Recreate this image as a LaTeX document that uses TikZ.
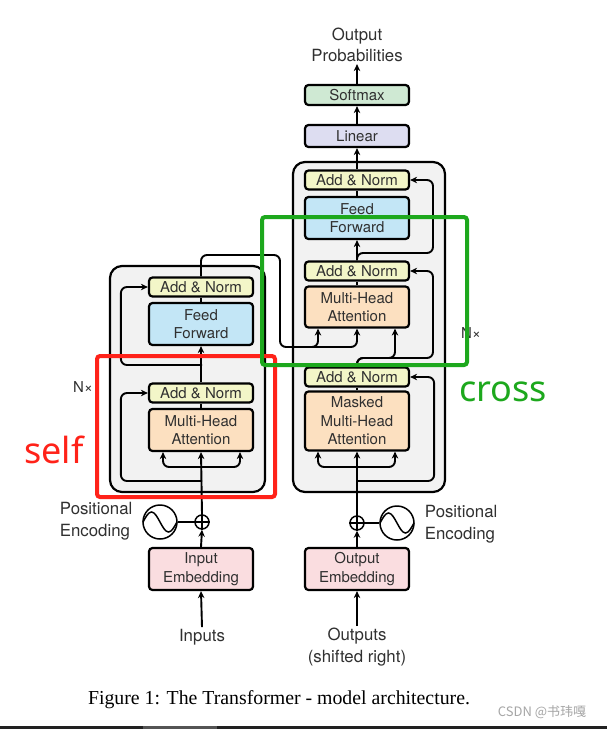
\documentclass[tikz,border=0pt]{standalone}
\usepackage{fontspec}
\setmainfont{Liberation Serif}
\setsansfont{TeX Gyre Heros}
\newfontfamily\notefont{Noto Sans}
\newfontfamily\cjkfont{Noto Sans CJK SC}
\usetikzlibrary{arrows.meta,calc}

\definecolor{ink}{HTML}{303030}
\definecolor{addcol}{HTML}{F3F6C8}
\definecolor{ffcol}{HTML}{C3E6F6}
\definecolor{attcol}{HTML}{FCE0C0}
\definecolor{embcol}{HTML}{FADDE0}
\definecolor{lincol}{HTML}{DDDDF1}
\definecolor{softcol}{HTML}{CFE9D3}
\definecolor{stackcol}{HTML}{F2F2F2}
\definecolor{selfred}{HTML}{FF2219}
\definecolor{crossgreen}{HTML}{1DA81D}

\begin{document}
\begin{tikzpicture}
[
    x=1pt, y=-1pt,
    >={Stealth[length=7pt,width=6.5pt]},
    line width=1.9pt,
    box/.style={draw, line width=2.2pt, rounded corners=3.5pt, inner sep=0pt, minimum width=104pt, align=center, text=ink, font=\sffamily\fontsize{15}{18.5}\selectfont},
    addnorm/.style={box, fill=addcol, minimum height=19pt},
    ffn/.style={box, fill=ffcol, minimum height=42pt},
    attn/.style={box, fill=attcol, minimum height=42pt},
    embed/.style={box, fill=embcol, minimum height=42pt},
    stack/.style={draw, line width=2.2pt, fill=stackcol, rounded corners=12pt},
    txt/.style={text=ink, align=center, inner sep=1pt, font=\sffamily\fontsize{16.8}{21.5}\selectfont},
    plus/.style={draw, circle, line width=1.5pt, minimum size=14pt, inner sep=0pt, fill=white},
    wave/.style={draw, circle, line width=1.5pt, minimum size=34pt, inner sep=0pt, fill=white},
    mark box/.style={line width=4pt, rounded corners=3pt},
]
\fill[white] (0,0) rectangle (607,729);

\draw[stack] (110,266) rectangle (265,492);
\draw[stack] (293,162) rectangle (445,492);

\node[addnorm] (encAN2) at (201,287) {Add \& Norm};
\node[ffn] (encFF) at (201,324) {Feed\\Forward};
\node[addnorm] (encAN1) at (201,393) {Add \& Norm};
\node[attn] (encMHA) at (201,430) {Multi-Head\\Attention};
\node[embed] (inEmb) at (201,569) {Input\\Embedding};
\node[plus] (encAdd) at (202,522) {};
\node[wave] (encPE) at (160,522) {};
\node[txt] (inputs) at (202,637) {Inputs};
\node[txt, align=left, anchor=west] (encPEtxt) at (58,521) {Positional\\Encoding};
\node[txt, font=\sffamily\fontsize{15}{18}\selectfont] (encN) at (83,387) {N×};

\node[addnorm] (decAN3) at (357,180) {Add \& Norm};
\node[ffn] (decFF) at (357,218) {Feed\\Forward};
\node[addnorm] (decAN2) at (357,271) {Add \& Norm};
\node[attn, minimum height=41pt] (decMHA) at (357,307) {Multi-Head\\Attention};
\node[addnorm] (decAN1) at (357,377) {Add \& Norm};
\node[attn, minimum height=59pt] (decMMHA) at (357,421) {Masked\\Multi-Head\\Attention};
\node[embed] (outEmb) at (357,569) {Output\\Embedding};
\node[plus] (decAdd) at (357,523) {};
\node[wave] (decPE) at (397,523) {};
\node[txt] (outputs) at (357,647) {Outputs\\(shifted right)};
\node[txt, align=left, anchor=west] (decPEtxt) at (423,524) {Positional\\Encoding};
\node[txt, font=\sffamily\fontsize{15}{18}\selectfont] (decN) at (471,333) {N×};

\node[box, fill=lincol, minimum height=22pt] (linear) at (357,136) {Linear};
\node[box, fill=softcol, minimum height=20pt] (softmax) at (357,95) {Softmax};
\node[txt] (outProb) at (357,45) {Output\\Probabilities};

% encoder
\draw[line width=1.5pt] (encAdd.north) -- (encAdd.south) (encAdd.west) -- (encAdd.east);
\draw[line width=1.5pt] ($(encPE.center)+(-17,0)$) sin +(8.5,-10) cos +(8.5,10) sin +(8.5,10) cos +(8.5,-10);
\draw (encPE) -- (encAdd);
\draw[->] (inputs.north) -- (inEmb.south);
\draw[->] (inEmb.north) -- (encAdd.south);
\draw[->] (encAdd.north) -- (encMHA.south);
\coordinate (encSplit) at (202,467);
\coordinate (encRes1) at (202,481);
\coordinate (encRes2) at (202,365);
\draw[->, rounded corners=6pt] (encSplit) -| ([xshift=-38pt]encMHA.south);
\draw[->, rounded corners=6pt] (encSplit) -| ([xshift=39pt]encMHA.south);
\draw[->, rounded corners=6pt] (encRes1) -| ([xshift=-27pt]encAN1.west) -- (encAN1.west);
\draw (encMHA.north) -- (encAN1.south);
\draw[->] (encAN1.north) -- (encFF.south);
\draw[->, rounded corners=6pt] (encRes2) -| ([xshift=-27pt]encAN2.west) -- (encAN2.west);
\draw (encFF.north) -- (encAN2.south);

% encoder to decoder
\coordinate (kvTurn) at (280,255);
\coordinate (kvLow) at (280,347);
\coordinate (kvMid) at (300,347);
\draw[->, rounded corners=6pt] (encAN2.north) |- (kvTurn) -- (kvLow) -| ([xshift=-39pt]decMHA.south);
\draw[->, rounded corners=6pt] (kvMid) -| (decMHA.south);

% decoder
\draw[line width=1.5pt] (decAdd.north) -- (decAdd.south) (decAdd.west) -- (decAdd.east);
\draw[line width=1.5pt] ($(decPE.center)+(-17,0)$) sin +(8.5,-10) cos +(8.5,10) sin +(8.5,10) cos +(8.5,-10);
\draw (decPE) -- (decAdd);
\draw[->] (outputs.north) -- (outEmb.south);
\draw[->] (outEmb.north) -- (decAdd.south);
\draw[->] (decAdd.north) -- (decMMHA.south);
\coordinate (decSplit) at (357,467);
\coordinate (decRes1) at (357,481);
\draw[->, rounded corners=6pt] (decSplit) -| ([xshift=-39pt]decMMHA.south);
\draw[->, rounded corners=6pt] (decSplit) -| ([xshift=38pt]decMMHA.south);
\draw[->, rounded corners=6pt] (decRes1) -| ([xshift=24pt]decAN1.east) -- (decAN1.east);
\draw (decMMHA.north) -- (decAN1.south);
\coordinate (decQ) at (357,358);
\coordinate (decRes2) at (433,358);
\draw[->, rounded corners=6pt] (decAN1.north) -- (decQ) -| ([xshift=38pt]decMHA.south);
\draw[->, rounded corners=6pt] (decAN1.north) |- (decRes2) |- (decAN2.east);
\draw (decMHA.north) -- (decAN2.south);
\draw[->] (decAN2.north) -- (decFF.south);
\coordinate (decRes3) at (433,253);
\draw[->, rounded corners=6pt] (decAN2.north) |- (decRes3) |- (decAN3.east);
\draw (decFF.north) -- (decAN3.south);
\draw[->] (decAN3.north) -- (linear.south);
\draw[->] (linear.north) -- (softmax.south);
\draw[->] (softmax.north) -- (outProb.south);

% marks
\draw[mark box, selfred] (97,356) rectangle (275,497);
\draw[mark box, crossgreen] (262,217) rectangle (467,365);
\node[text=selfred, font=\notefont\fontsize{36}{40}\selectfont] (selfTxt) at (54,450) {self};
\node[text=crossgreen, font=\notefont\fontsize{36}{40}\selectfont] (crossTxt) at (503,392) {cross};

\node[font=\fontsize{19.8}{22}\selectfont] (caption) at (279,700) {Figure 1: The Transformer - model architecture.};
\node[text=gray!70, font=\cjkfont\fontsize{13}{15}\selectfont] (mark) at (542,712) {CSDN @书玮嘎};
\fill[black!87] (0,726) rectangle (607,729);
\fill[black!67] (143,726) rectangle (217,729);
\end{tikzpicture}
\end{document}
